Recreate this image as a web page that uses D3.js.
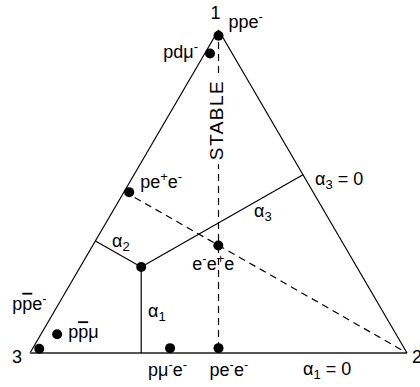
<!DOCTYPE html>
<html lang="en">
<head>
<meta charset="utf-8">
<title>Ternary</title>
<script src="https://cdn.jsdelivr.net/npm/d3@7"></script>
<style>
  body { margin: 0; background: #fff; }
  text { font-family: "Liberation Sans", Arial, sans-serif; font-size: 18px; fill: #000; }
</style>
</head>
<body>
<script>
// points in (alpha1, alpha2, alpha3), alpha1 = top vertex "1"
var names  = ["ppe^-", "pd\u03bc^-", "pe^+e^-", "e^-e^+e", "p\u03bc^-e^-", "pe^-e^-", "p!p\u03bc", "p!pe^-"];
var alpha1 = [0.982, 0.927, 0.498, 0.333, 0.015, 0.015, 0.058, 0.013];
var alpha2 = [0.009, 0.014, 0.014, 0.333, 0.364, 0.4925, 0.043, 0.018];
var alpha3 = [0.009, 0.059, 0.488, 0.334, 0.621, 0.4925, 0.899, 0.969];

// inner point whose distances to the sides are alpha1..3
var inner = [0.266, 0.162, 0.572];
var vertexLabels = ["1", "2", "3"];

var W = 420, H = 387;
var svg = d3.select("body").append("svg").attr("width", W).attr("height", H);

var x = d3.scaleLinear().domain([0, 1]).range([30, 407]);
var y = d3.scaleLinear().domain([0, 1]).range([353, 30]);

function pos(a) { // a = [a1,a2,a3]
  return [x(a[1] + a[0] / 2), y(a[0])];
}

var V1 = pos([1, 0, 0]), V2 = pos([0, 1, 0]), V3 = pos([0, 0, 1]);

// rich text: ^c superscript, _c subscript, !c overlined char
function rich(t, str) {
  var i = 0, back = 0;
  while (i < str.length) {
    var c = str[i];
    if (c === "^" || c === "_") {
      var d = c === "^" ? -7 : 4;
      t.append("tspan").attr("dy", d + back).style("font-size", "13px").text(str[i + 1]);
      back = -d;
      i += 2;
    } else {
      var s = t.append("tspan").text(c === "!" ? str[i + 1] : c);
      if (back) { s.attr("dy", back); back = 0; }
      if (c === "!") { s.style("text-decoration", "overline"); i += 2; } else i += 1;
    }
  }
  return t;
}
function label(xx, yy, str, anchor) {
  return rich(svg.append("text").attr("x", xx).attr("y", yy).attr("text-anchor", anchor || "start"), str);
}

// triangle sides
svg.append("line").attr("x1", V3[0]).attr("y1", V3[1]).attr("x2", V1[0]).attr("y2", V1[1]).attr("stroke", "#000").attr("stroke-width", 1.2);
svg.append("line").attr("x1", V2[0]).attr("y1", V2[1]).attr("x2", V1[0]).attr("y2", V1[1]).attr("stroke", "#000").attr("stroke-width", 1.2);
svg.append("line").attr("x1", V3[0]).attr("y1", V3[1]).attr("x2", V2[0]).attr("y2", V2[1]).attr("stroke", "#555").attr("stroke-width", 2);

// dashed medians
var midBase = pos([0, 0.5, 0.5]), midLeft = pos([0.5, 0, 0.5]);
svg.append("line").attr("x1", V1[0]).attr("y1", V1[1]).attr("x2", midBase[0]).attr("y2", midBase[1])
  .attr("stroke", "#000").attr("stroke-width", 1.2).attr("stroke-dasharray", "7,5");
svg.append("line").attr("x1", midLeft[0]).attr("y1", midLeft[1]).attr("x2", V2[0]).attr("y2", V2[1])
  .attr("stroke", "#000").attr("stroke-width", 1.2).attr("stroke-dasharray", "7,5");

// perpendiculars from inner point
var P = pos(inner);
var feet = [
  pos([0, inner[1] + inner[0] / 2, inner[2] + inner[0] / 2]),
  pos([inner[0] + inner[1] / 2, 0, inner[2] + inner[1] / 2]),
  pos([inner[0] + inner[2] / 2, inner[1] + inner[2] / 2, 0])
];
feet.forEach(function(f) {
  svg.append("line").attr("x1", P[0]).attr("y1", P[1]).attr("x2", f[0]).attr("y2", f[1]).attr("stroke", "#000").attr("stroke-width", 1.2);
});
svg.append("circle").attr("cx", P[0]).attr("cy", P[1]).attr("r", 5);

// STABLE label on the vertical median
var st = svg.append("text").attr("transform", "translate(223,120) rotate(-90)")
  .attr("text-anchor", "middle").style("letter-spacing", "1.5px").style("font-size", "19px").text("STABLE");
var bb = st.node().getBBox();
svg.insert("rect", "text").attr("transform", "translate(223,120) rotate(-90)")
  .attr("x", bb.x - 4).attr("y", bb.y + 1).attr("width", bb.width + 8).attr("height", bb.height - 2).attr("fill", "#fff");

// points
var pts = names.map(function(n, i) { return { name: n, a: [alpha1[i], alpha2[i], alpha3[i]] }; });
svg.selectAll("circle.pt").data(pts).enter().append("circle").attr("class", "pt")
  .attr("cx", function(d) { return pos(d.a)[0]; })
  .attr("cy", function(d) { return pos(d.a)[1]; })
  .attr("r", 5);

// point labels: offsets from each dot
var offs = [[10, -8, "start"], [-12, 4, "end"], [11, -4, "start"], [-26, 25, "start"],
            [-22, 28, "start"], [-9, 28, "start"], [11, 4, "start"], [-27, -39, "start"]];
pts.forEach(function(d, i) {
  var p = pos(d.a);
  label(p[0] + offs[i][0], p[1] + offs[i][1], d.name, offs[i][2]);
});

// vertex labels
label(V1[0] - 3, V1[1] - 11, vertexLabels[0], "middle");
label(V2[0] + 5, V2[1] + 10, vertexLabels[1]);
label(V3[0] - 18, V3[1] + 10, vertexLabels[2]);

// alpha labels
label(148, 317, "\u03b1_1");
label(112, 247, "\u03b1_2");
label(254, 217, "\u03b1_3");
label(315, 185, "\u03b1_3 = 0");
label(303, 375, "\u03b1_1 = 0");
</script>
</body>
</html>
